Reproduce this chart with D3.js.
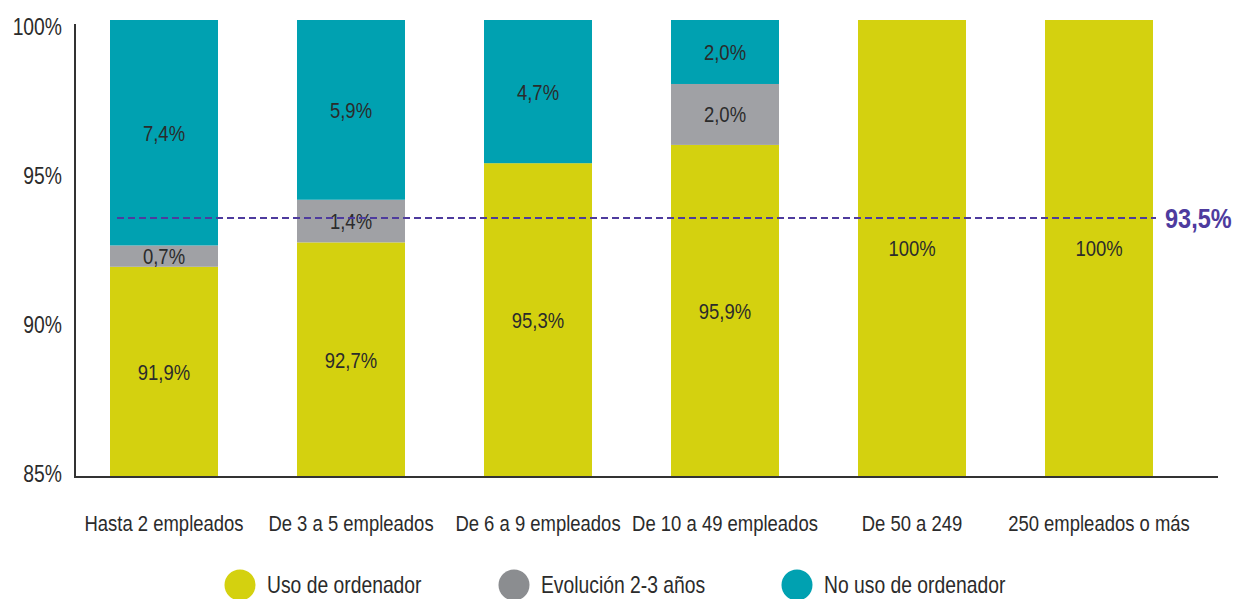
<!DOCTYPE html>
<meta charset="utf-8">
<style>
  body {
    margin: 0;
    overflow: hidden;
    background: #fff;
  }
  text {
    font-family: "Liberation Sans", Arial, sans-serif;
    fill: #2b2b2b;
  }
  .domain {
    stroke: #333;
    stroke-width: 2;
  }
</style>
<body>
</body>
<script src="https://cdn.jsdelivr.net/npm/d3@7"></script>
<script>

var categories = ["Hasta 2 empleados", "De 3 a 5 empleados", "De 6 a 9 empleados",
                  "De 10 a 49 empleados", "De 50 a 249", "250 empleados o más"];
var usoOrdenador = [91.9, 92.7, 95.3, 95.9, 100, 100];
var evolucion = [0.7, 1.4, 0, 2.0, 0, 0];
var noUso = [7.4, 5.9, 4.7, 2.0, 0, 0];
var seriesNames = ["Uso de ordenador", "Evolución 2-3 años", "No uso de ordenador"];
var yTicks = [85, 90, 95, 100];
var media = 93.5;

var width = 1236,
    height = 599,
    squeeze = 0.84;   // condensed look

var colors = ["#d4d10f", "#a0a1a5", "#00a1b1"];
var legendColors = ["#d4d10f", "#8b8d90", "#00a1b1"];

var fmt = function(v) {
  return (v === 100 ? "100" : d3.format(".1f")(v).replace(".", ",")) + "%";
};

var svg = d3.select("body").append("svg")
    .attr("width", width)
    .attr("height", height);

var x = d3.scaleBand()
    .domain(categories)
    .range([70.5, 70.5 + 6 * 187])
    .paddingInner(0.4225)
    .paddingOuter(0.21125);

var y = d3.scaleLinear()
    .domain([85, 100])
    .range([477, 20]);

// tick labels sit a bit off the bar scale in the original
var yLabel = d3.scaleLinear()
    .domain([85, 100])
    .range([474, 27]);

var rows = categories.map(function(c, i) {
  return {cat: c, uso: usoOrdenador[i], evo: evolucion[i], no: noUso[i]};
});

var stacked = d3.stack().keys(["uso", "evo", "no"])(rows);

// "no uso" is the remainder up to 100
stacked[2].forEach(function(d) { if (d.data.no > 0) d[1] = 100; });

var layers = svg.append("g").selectAll("g")
    .data(stacked)
  .enter().append("g")
    .attr("fill", function(d, i) { return colors[i]; });

layers.selectAll("rect")
    .data(function(d) { return d.filter(function(s) { return s[1] - s[0] > 0; }); })
  .enter().append("rect")
    .attr("x", function(d) { return x(d.data.cat); })
    .attr("width", x.bandwidth())
    .attr("y", function(d) { return y(d[1]); })
    .attr("height", function(d) { return y(Math.max(d[0], 85)) - y(d[1]); });

layers.selectAll("text")
    .data(function(d) {
      var key = d.key;
      return d.filter(function(s) { return s[1] - s[0] > 0; })
        .map(function(s) { return {s: s, v: s.data[key]}; });
    })
  .enter().append("text")
    .attr("x", function(d) { return x(d.s.data.cat) + x.bandwidth() / 2; })
    .attr("y", function(d) { return (y(Math.max(d.s[0], 85)) + y(d.s[1])) / 2; })
    .attr("dy", "0.36em")
    .attr("text-anchor", "middle")
    .style("font-size", "22px")
    .text(function(d) { return fmt(d.v); });

// axes
var yAxis = svg.append("g")
    .attr("transform", "translate(75,0)")
    .call(d3.axisLeft(yLabel).tickValues(yTicks).tickSize(0).tickPadding(13)
      .tickFormat(function(d) { return d + "%"; }));
yAxis.select(".domain").attr("d", "M0,24V477");
yAxis.selectAll("text").style("font-size", "23px");

var xAxis = svg.append("g")
    .attr("transform", "translate(0,477)")
    .call(d3.axisBottom(x).tickSize(0).tickPadding(38));
xAxis.select(".domain").attr("d", "M74,0H1218");
xAxis.selectAll("text").style("font-size", "22px");

// media line
svg.append("line")
    .attr("x1", 117)
    .attr("x2", 1156)
    .attr("y1", y(media))
    .attr("y2", y(media))
    .style("stroke", "#4e3b9e")
    .style("stroke-width", 2)
    .style("stroke-dasharray", "7,4");

svg.append("text")
    .attr("x", 1165)
    .attr("y", y(media))
    .attr("dy", "0.36em")
    .style("font-size", "28px")
    .style("font-weight", "bold")
    .style("fill", "#4e3b9e")
    .text(fmt(media));

// legend
var legendX = [240, 514, 797];
var legend = svg.append("g").selectAll("g")
    .data(seriesNames)
  .enter().append("g")
    .attr("transform", function(d, i) { return "translate(" + legendX[i] + ",585)"; });

legend.append("circle")
    .attr("r", 15.5)
    .attr("fill", function(d, i) { return legendColors[i]; });

legend.append("text")
    .attr("x", 27)
    .attr("dy", "0.36em")
    .style("font-size", "23px")
    .text(function(d) { return d; });

// squeeze every label horizontally around its anchor
svg.selectAll("text").each(function() {
  var t = d3.select(this),
      tx = +t.attr("x") || 0,
      ty = +t.attr("y") || 0;
  t.attr("x", 0).attr("y", 0)
    .attr("transform", "translate(" + tx + "," + ty + ") scale(" + squeeze + ",1)");
});

</script>
